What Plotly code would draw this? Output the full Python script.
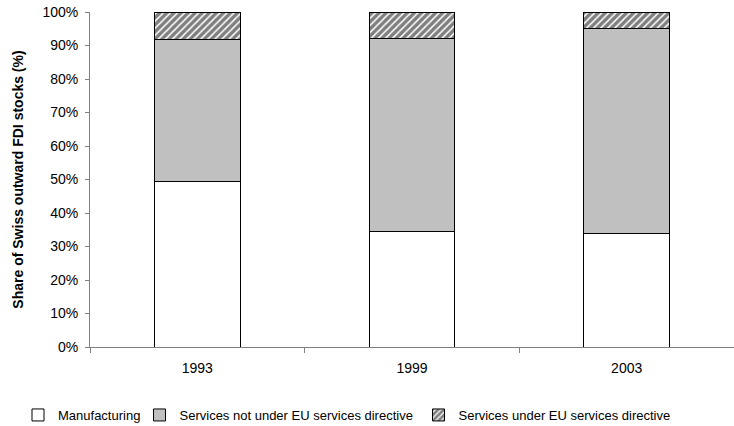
import plotly.graph_objects as go

years = ["1993", "1999", "2003"]
manufacturing = [49.3, 34.4, 34.0]
services_not_eu = [42.5, 57.8, 61.1]
services_eu = [8.2, 7.8, 4.9]
y_ticks = [0, 10, 20, 30, 40, 50, 60, 70, 80, 90, 100]
y_tick_labels = [f"{v}%" for v in y_ticks]

FONT = "Liberation Sans, Arial, sans-serif"

fig = go.Figure()
fig.add_trace(go.Bar(
    x=years, y=manufacturing, name="Manufacturing", legend="legend",
    marker=dict(color="white", line=dict(color="black", width=1)),
))
fig.add_trace(go.Bar(
    x=years, y=services_not_eu, name="Services not under EU services directive",
    legend="legend2",
    marker=dict(color="#c0c0c0", line=dict(color="black", width=1)),
))
fig.add_trace(go.Bar(
    x=years, y=services_eu, name="Services under EU services directive",
    legend="legend3",
    marker=dict(color="white", line=dict(color="black", width=1),
                pattern=dict(shape="/", fgcolor="black", bgcolor="white",
                             size=5, solidity=0.7)),
))

def leg(x):
    return dict(orientation="h", x=x, xanchor="left", y=-0.203, yanchor="middle",
                font=dict(size=13, family=FONT), bgcolor="rgba(0,0,0,0)",
                itemwidth=30)

fig.update_layout(
    barmode="stack",
    bargap=0.6,
    width=734, height=426,
    autosize=False,
    margin=dict(l=90, r=0, t=12, b=79, autoexpand=False),
    plot_bgcolor="white", paper_bgcolor="white",
    font=dict(family=FONT, size=14, color="black"),
    showlegend=True,
    legend=leg(-0.1118),
    legend2=leg(0.0769),
    legend3=leg(0.5101),
    xaxis=dict(type="category", showline=True, linecolor="#808080", linewidth=1,
               ticks="outside", tickson="boundaries", ticklen=5, tickcolor="#808080",
               showgrid=False, tickfont=dict(size=14), ticklabelstandoff=8),
    yaxis=dict(range=[0, 100], tickvals=y_ticks, ticktext=y_tick_labels,
               showline=True, linecolor="#808080", linewidth=1,
               ticks="outside", ticklen=4, tickcolor="#808080",
               showgrid=False, zeroline=False, tickfont=dict(size=14),
               ticklabelstandoff=4,
               title=dict(text="<b>Share of Swiss outward FDI stocks (%)</b>",
                          font=dict(size=14), standoff=15)),
)

fig.write_html("out.html")
